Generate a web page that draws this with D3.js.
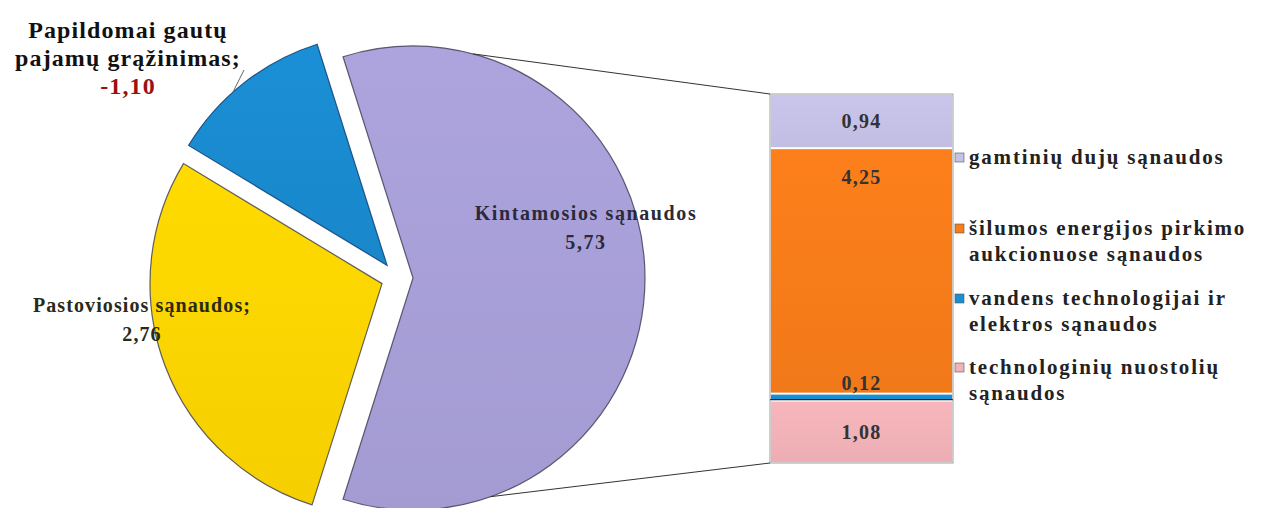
<!DOCTYPE html>
<html><head><meta charset="utf-8">
<script src="https://cdn.jsdelivr.net/npm/d3@7"></script>
<style>body{margin:0;background:#fff}svg{display:block}text{font-family:"Liberation Serif","Times New Roman",serif;font-weight:bold}</style>
</head><body>
<svg id="c" width="1262" height="508"></svg>
<script>
const pieCategories = ["Kintamosios sąnaudos", "Pastoviosios sąnaudos", "Papildomai gautų pajamų grąžinimas"];
const pieValues = [5.73, 2.76, 1.10];
const pieSigns = [1, 1, -1];
const pieColors = ["#a89fd8", "#fdd500", "#1a8bd0"];
const barCategories = ["gamtinių dujų sąnaudos", "šilumos energijos pirkimo aukcionuose sąnaudos", "vandens technologijai ir elektros sąnaudos", "technologinių nuostolių sąnaudos"];
const barValues = [0.94, 4.25, 0.12, 1.08];
const barColors = ["#c6c1e7", "#f77c1a", "#1a8ed2", "#f1b2b8"];
const legendLines = [["gamtinių dujų sąnaudos"], ["šilumos energijos pirkimo", "aukcionuose sąnaudos"], ["vandens technologijai ir", "elektros sąnaudos"], ["technologinių nuostolių", "sąnaudos"]];

const loc = d3.formatLocale({decimal: ",", thousands: " ", grouping: [3], currency: ["", ""], minus: "-"});
const fmt = loc.format(".2f");
const svg = d3.select("#c");
const defs = svg.append("defs");

function lin(id, c, k) {
  const g = defs.append("linearGradient").attr("id", id).attr("x1", 0).attr("y1", 0).attr("x2", 0).attr("y2", 1);
  g.append("stop").attr("offset", "0%").attr("stop-color", d3.color(c).brighter(k));
  g.append("stop").attr("offset", "100%").attr("stop-color", d3.color(c).darker(k));
}
pieColors.forEach((c, i) => lin("pg" + i, c, 0.08));
barColors.forEach((c, i) => lin("bg" + i, c, 0.06));

// PIE
const cx = 397, cy = 278, R = 232, explode = 16;
const total = d3.sum(pieValues);
const firstAngle = pieValues[0] / total * 2 * Math.PI;
const pie = d3.pie().sort(null).value(d => d)
  .startAngle(Math.PI / 2 - firstAngle / 2).endAngle(Math.PI / 2 - firstAngle / 2 + 2 * Math.PI);
const arcs = pie(pieValues);
const arc = d3.arc().innerRadius(0).outerRadius(R);
const gPie = svg.append("g").attr("transform", `translate(${cx},${cy})`);
const centers = [];
arcs.forEach((a, i) => {
  const mid = (a.startAngle + a.endAngle) / 2;
  const ox = explode * Math.sin(mid), oy = -explode * Math.cos(mid);
  centers.push([cx + ox, cy + oy]);
  gPie.append("path").attr("d", arc(a)).attr("transform", `translate(${ox},${oy})`)
    .attr("fill", `url(#pg${i})`).attr("stroke", i === 2 ? "#0b3a6e" : "#3a3a50")
    .attr("stroke-width", 1.2).attr("stroke-opacity", 0.8);
});

// BAR
const bx0 = 770, bx1 = 953, by0 = 94, by1 = 463;
const y = d3.scaleLinear().domain([0, d3.sum(barValues)]).range([by0, by1]);
let acc = 0;
const segs = barValues.map(v => { const s = {y0: acc, y1: acc + v, v}; acc += v; return s; });
const gBar = svg.append("g");
segs.forEach((s, i) => {
  gBar.append("rect").attr("x", bx0).attr("width", bx1 - bx0)
    .attr("y", y(s.y0)).attr("height", Math.max(1, y(s.y1) - y(s.y0)))
    .attr("fill", `url(#bg${i})`).attr("stroke", "#fff").attr("stroke-width", 1.8);
});
gBar.append("line").attr("x1", bx0).attr("x2", bx1).attr("y1", y(segs[3].y0) - 1).attr("y2", y(segs[3].y0) - 1)
  .attr("stroke", "#222").attr("stroke-width", 1.2);
gBar.append("rect").attr("x", bx0).attr("y", by0).attr("width", bx1 - bx0).attr("height", by1 - by0)
  .attr("fill", "none").attr("stroke", "#888").attr("stroke-width", 0.8);

const labelY = [ (y(segs[0].y0)+y(segs[0].y1))/2 + 7, y(segs[1].y0) + 36, y(segs[2].y0) - 4, (y(segs[3].y0)+y(segs[3].y1))/2 + 7 ];
segs.forEach((s, i) => {
  gBar.append("text").attr("x", (bx0 + bx1) / 2).attr("y", labelY[i]).attr("text-anchor", "middle")
    .attr("font-size", 20).attr("letter-spacing", 1.2).attr("fill", "#333").text(fmt(s.v));
});

// connector lines
const pc = centers[0];
const a1 = 15 * Math.PI / 180, a2 = 160.5 * Math.PI / 180;
svg.append("line").attr("x1", pc[0] + R * Math.sin(a1)).attr("y1", pc[1] - R * Math.cos(a1))
  .attr("x2", bx0).attr("y2", by0).attr("stroke", "#333").attr("stroke-width", 1);
svg.append("line").attr("x1", pc[0] + R * Math.sin(a2)).attr("y1", pc[1] - R * Math.cos(a2))
  .attr("x2", bx0).attr("y2", by1).attr("stroke", "#333").attr("stroke-width", 1);

// pie labels
const t1 = svg.append("text").attr("text-anchor", "middle").attr("font-size", 20).attr("fill", "#2a2a3a").attr("letter-spacing", 1.6);
t1.append("tspan").attr("x", 586).attr("y", 220).text(pieCategories[0]);
t1.append("tspan").attr("x", 586).attr("y", 249).text(fmt(pieSigns[0] * pieValues[0]));
const t2 = svg.append("text").attr("text-anchor", "middle").attr("font-size", 20).attr("fill", "#2a2a1a").attr("letter-spacing", 1.1);
t2.append("tspan").attr("x", 142).attr("y", 312).text(pieCategories[1] + ";");
t2.append("tspan").attr("x", 142).attr("y", 341).text(fmt(pieSigns[1] * pieValues[1]));
const t3 = svg.append("text").attr("text-anchor", "middle").attr("font-size", 24).attr("fill", "#111").attr("letter-spacing", 1.1);
t3.append("tspan").attr("x", 128).attr("y", 38).text("Papildomai gautų");
t3.append("tspan").attr("x", 128).attr("y", 66).text("pajamų grąžinimas;");
t3.append("tspan").attr("x", 128).attr("y", 94).attr("fill", "#9c1010").text(fmt(pieSigns[2] * pieValues[2]));
svg.append("line").attr("x1", 244).attr("y1", 70).attr("x2", 233).attr("y2", 92).attr("stroke", "#666").attr("stroke-width", 1);

// legend
const legY = [157, 228, 298, 367];
legendLines.forEach((lines, i) => {
  const g = svg.append("g");
  g.append("rect").attr("x", 955).attr("y", legY[i] - 4).attr("width", 9).attr("height", 9)
    .attr("fill", barColors[i]).attr("stroke", "#555").attr("stroke-width", 0.6);
  const t = g.append("text").attr("font-size", 21).attr("fill", "#222").attr("letter-spacing", 1.8);
  lines.forEach((l, j) => t.append("tspan").attr("x", 969).attr("y", legY[i] + 7 + j * 26).text(l));
});
</script>
</body></html>
